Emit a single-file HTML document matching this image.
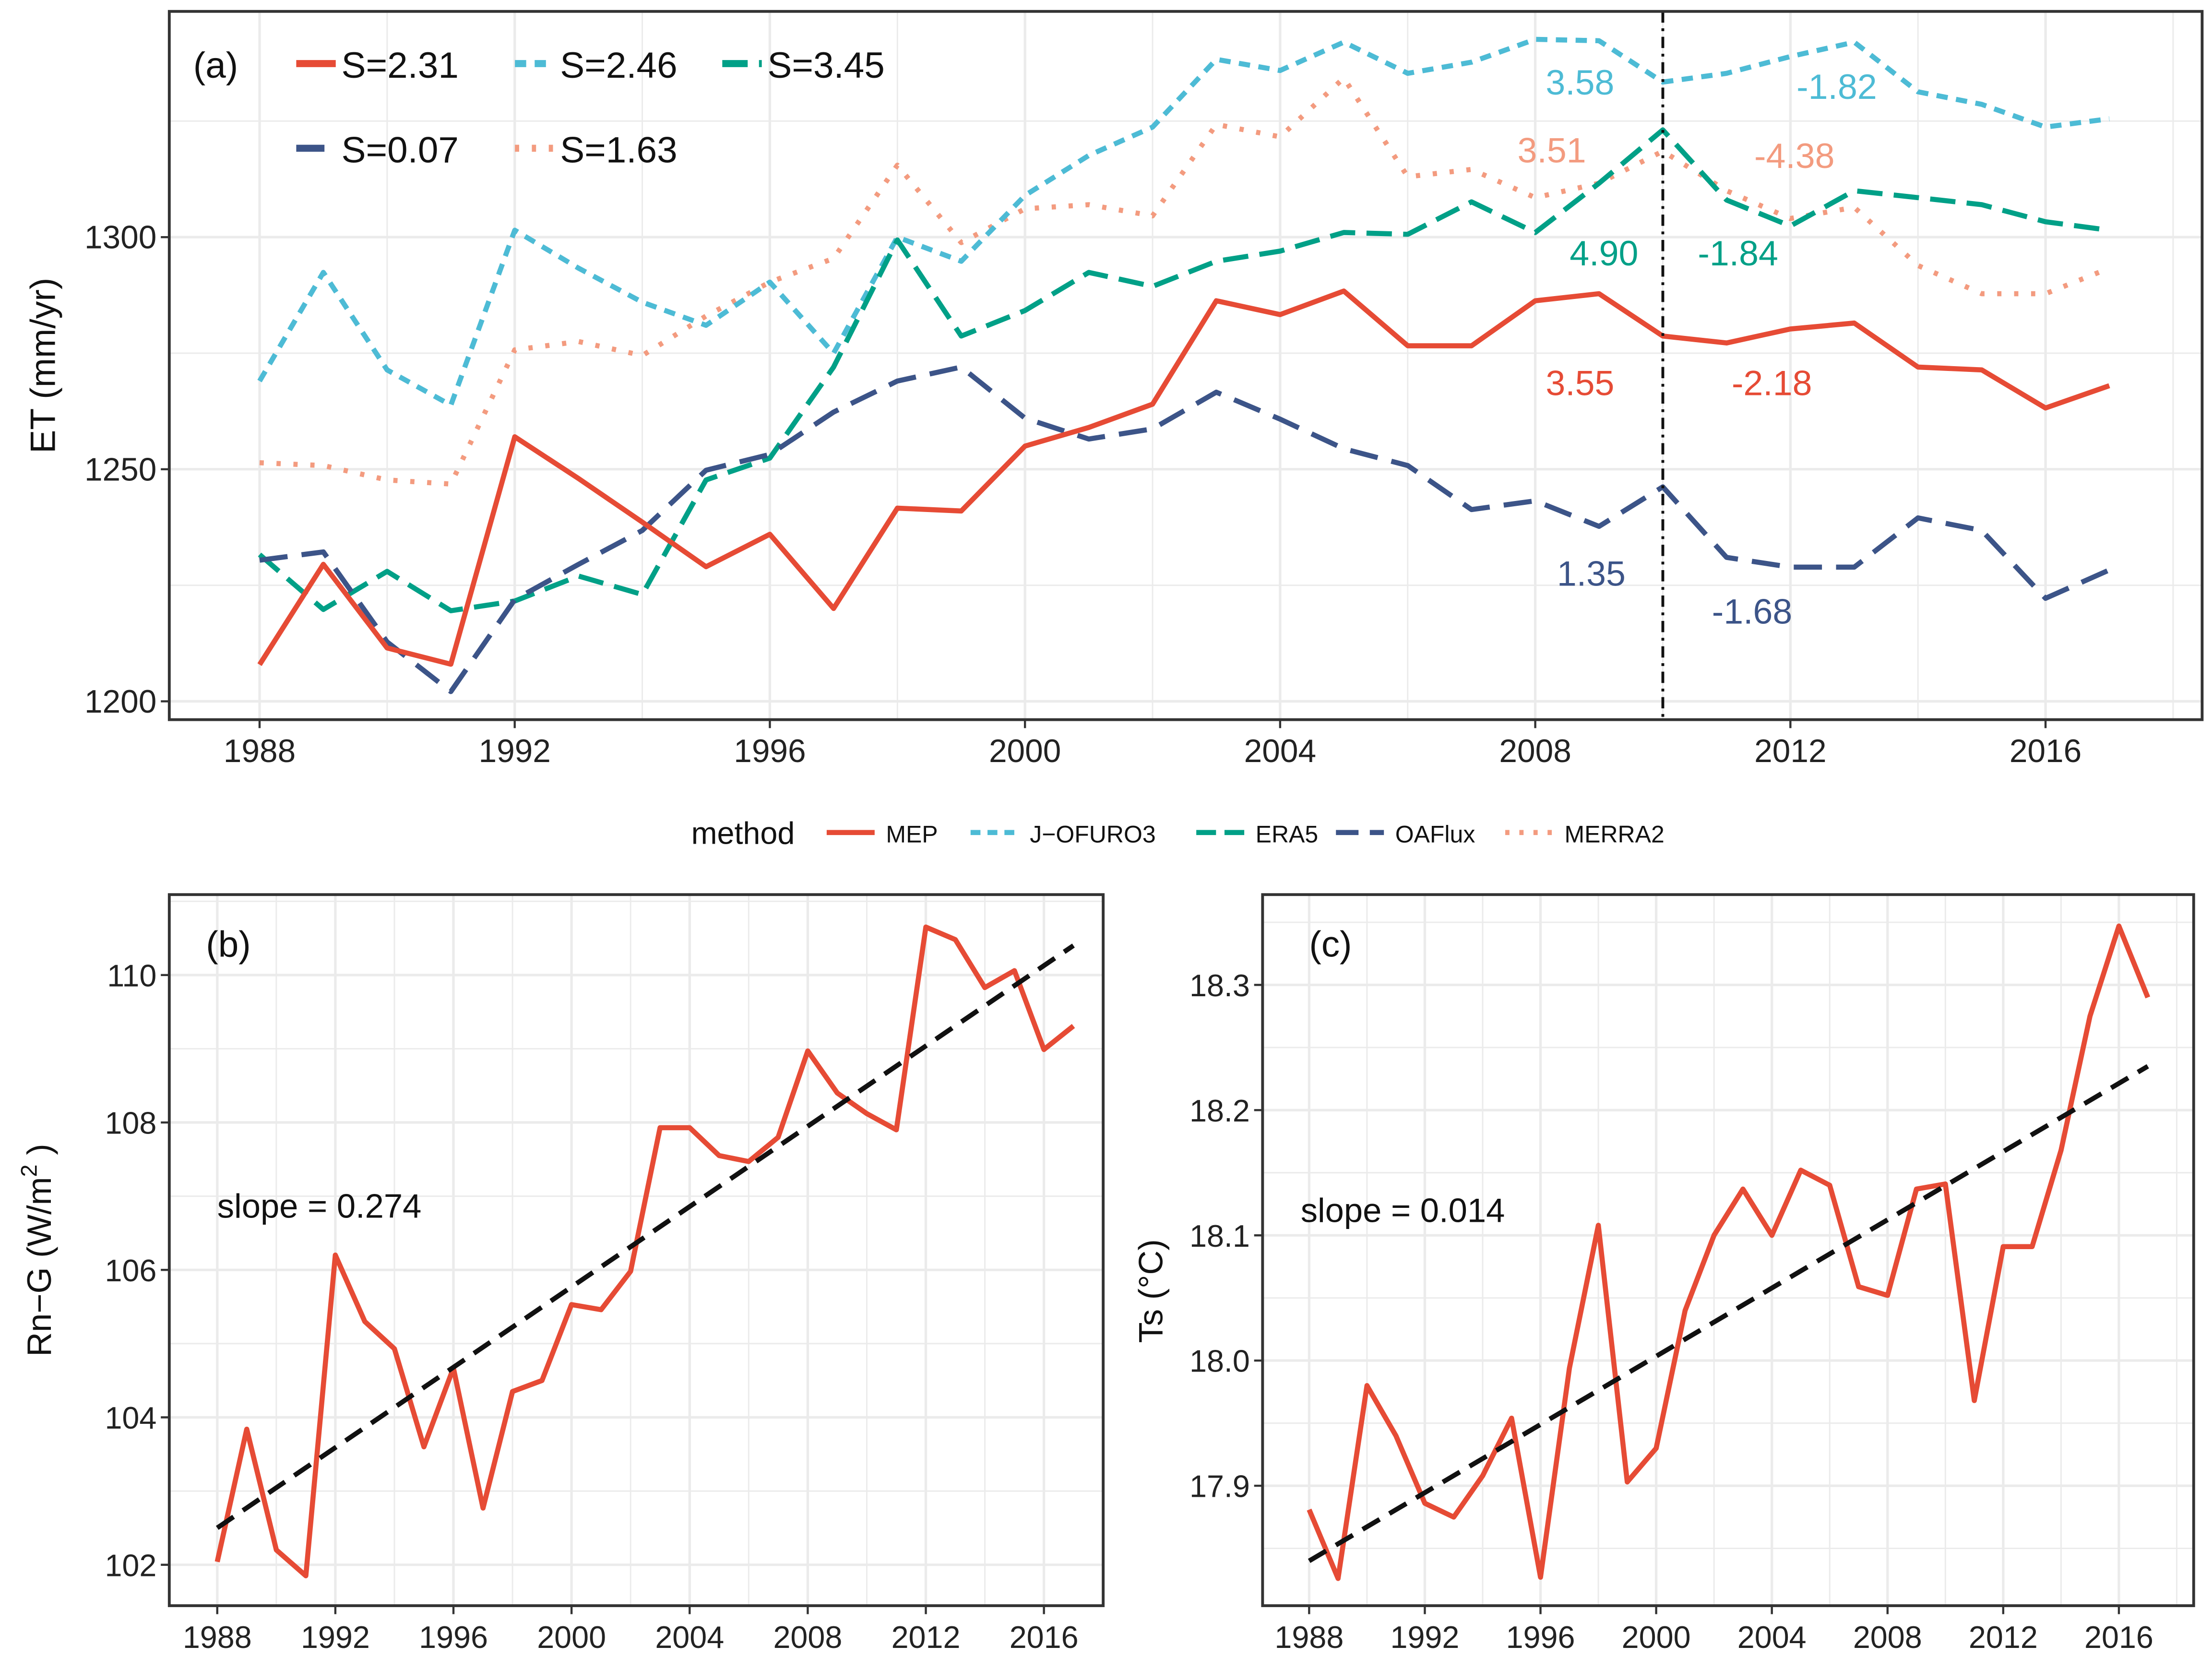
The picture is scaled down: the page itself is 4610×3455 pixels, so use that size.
<!DOCTYPE html>
<html><head><meta charset="utf-8">
<style>
html,body{margin:0;padding:0;background:#fff;}
svg{display:block;font-family:"Liberation Sans",Arial,sans-serif;}
</style></head>
<body>
<svg id="fig" xmlns="http://www.w3.org/2000/svg" width="4610" height="3455" viewBox="0 0 1568 1175"></svg>
<script>
const years = [1988,1989,1990,1991,1992,1993,1994,1995,1996,1997,1998,1999,2000,2001,2002,2003,2004,2005,2006,2007,2008,2009,2010,2011,2012,2013,2014,2015,2016,2017];
const mepET = [1207.9,1229.5,1211.5,1208,1257,1248,1238.6,1229,1236,1220,1241.6,1241,1255,1259,1264,1286.3,1283.3,1288.4,1276.6,1276.6,1286.3,1287.8,1278.7,1277.2,1280.2,1281.5,1272,1271.4,1263.2,1268];
const jofuroET = [1269,1292.4,1271.4,1263.8,1301.5,1293.3,1286,1281,1290.3,1275,1300,1294.8,1309,1317.6,1323.7,1338.3,1335.9,1342,1335.3,1337.7,1342.6,1342.3,1333.4,1335.3,1338.9,1342,1331.3,1328.6,1323.7,1325.5];
const era5ET = [1231.6,1219.8,1228,1219.5,1221.6,1227,1223,1247.7,1252.4,1272,1299.4,1278.7,1284.2,1292.4,1289.4,1294.8,1297,1301,1300.6,1307.6,1301,1311.6,1323.1,1308,1302.4,1310,1308.5,1307,1303.3,1301.5];
const oafluxET = [1230.4,1232.2,1212.8,1202.1,1221.9,1229.5,1236.8,1249.8,1253.2,1262.3,1269,1272,1261,1256.5,1258.7,1266.6,1260.8,1254.4,1250.8,1241.3,1243.2,1237.7,1246.2,1231,1228.9,1228.9,1239.5,1236.8,1222.2,1228.3];
const merraET = [1251.4,1250.8,1247.7,1246.8,1275.7,1277.5,1274.5,1283,1290.3,1295.4,1315.5,1298.8,1306.1,1307,1304.6,1324.3,1321.6,1334.3,1313,1314.6,1308.5,1311.6,1318.5,1310,1304,1306.4,1293.9,1287.8,1287.8,1293.3];
const rnG = [102.04,103.84,102.2,101.85,106.2,105.3,104.93,103.6,104.67,102.77,104.35,104.5,105.53,105.46,105.98,107.93,107.93,107.55,107.47,107.8,108.97,108.4,108.12,107.9,110.65,110.48,109.83,110.06,108.99,109.31];
const rnTrend = [102.5,110.4];
const ts = [17.881,17.826,17.98,17.94,17.886,17.875,17.908,17.954,17.827,17.994,18.108,17.903,17.93,18.04,18.10,18.137,18.10,18.152,18.14,18.059,18.052,18.137,18.141,17.968,18.091,18.091,18.168,18.275,18.347,18.29];
const tsTrend = [17.84,18.235];
const xTicks = [1988,1992,1996,2000,2004,2008,2012,2016];
const etTicks = [1200,1250,1300];
const rnTicks = [102,104,106,108,110];
const tsTicks = [17.9,18.0,18.1,18.2,18.3];
const seriesNames = ["MEP","J\u2212OFURO3","ERA5","OAFlux","MERRA2"];
const sValues = ["S=2.31","S=2.46","S=3.45","S=0.07","S=1.63"];

const NS="http://www.w3.org/2000/svg";
const svg=document.getElementById('fig');
function el(tag,attrs,parent,text){const e=document.createElementNS(NS,tag);for(const k in attrs)e.setAttribute(k,attrs[k]);if(text!==undefined)e.textContent=text;(parent||svg).appendChild(e);return e;}
const C={mep:"#e64b35",jof:"#4dbbd5",era:"#00a087",oaf:"#3c5488",mer:"#f39b7f"};
const grid="#ebebeb";

function lin(d0,d1,r0,r1){return v=>r0+(v-d0)*(r1-r0)/(d1-d0);}

function panel(o){
  const g=el('g',{});
  
  
  const X=o.X,Y=o.Y;
  for(let yr=1986;yr<=2018;yr+=2){const x=X(yr);if(x>o.x0&&x<o.x1){const l=el('line',{x1:x,x2:x,y1:o.y0,y2:o.y1,stroke:grid,'stroke-width':yr%4===0?1.8:1},g);}}
  for(let i=0;i<o.yMinor.length;i++){const y=Y(o.yMinor[i]);if(y>o.y0&&y<o.y1){const l=el('line',{x1:o.x0,x2:o.x1,y1:y,y2:y,stroke:grid,'stroke-width':1},g);}}
  for(const t of o.yTicks){const y=Y(t);const l=el('line',{x1:o.x0,x2:o.x1,y1:y,y2:y,stroke:grid,'stroke-width':1.8},g);
    const tk=el('line',{x1:o.x0-6,x2:o.x0,y1:y,y2:y,stroke:'#333','stroke-width':1.5},g);
    const tx=el('text',{x:o.x0-9,y:y+8,'text-anchor':'end','font-size':o.fs,fill:'#222'},g,o.fmt(t));}
  for(const t of xTicks){const x=X(t);const tk=el('line',{x1:x,x2:x,y1:o.y1,y2:o.y1+6,stroke:'#333','stroke-width':1.5},g);
    const tx=el('text',{x:x,y:o.y1+30,'text-anchor':'middle','font-size':o.fs,fill:'#222'},g,String(t));}
  return g;
}
function line(g,vals,X,Y,color,dash,name,w){
  const pts=years.map((yr,i)=>X(yr).toFixed(1)+','+Y(vals[i]).toFixed(1)).join(' ');
  const p=el('polyline',{points:pts,fill:'none',stroke:color,'stroke-width':w||3.6,'stroke-dasharray':dash||'none','stroke-linejoin':'round'},g);
  
  
  return p;
}
function frame(g,o){const r=el('rect',{x:o.x0,y:o.y0,width:o.x1-o.x0,height:o.y1-o.y0,fill:'none',stroke:'#333','stroke-width':2},g);}
function txt(g,x,y,s,fs,fill,name,anchor){const t=el('text',{x:x,y:y,'font-size':fs,fill:fill,'text-anchor':anchor||'start'},g,s);return t;}

// ===== Panel A =====
const A={name:'panel-a-et',x0:120,x1:1561,y0:8,y1:510,fs:23,X:lin(1988,2016,184,1450),Y:lin(1200,1300,497,168),yTicks:etTicks,yMinor:[1225,1275,1325],fmt:v=>String(v)};
const ga=panel(A);
line(ga,merraET,A.X,A.Y,C.mer,'3,9','merra2-line');
line(ga,jofuroET,A.X,A.Y,C.jof,'8,6','jofuro3-line');
line(ga,era5ET,A.X,A.Y,C.era,'18,8','era5-line');
line(ga,oafluxET,A.X,A.Y,C.oaf,'20,10','oaflux-line');
line(ga,mepET,A.X,A.Y,C.mep,'none','mep-line');
const vl=el('line',{x1:A.X(2010),x2:A.X(2010),y1:A.y0,y2:A.y1,stroke:'#111','stroke-width':2,'stroke-dasharray':'8,4,2,4'},ga);

frame(ga,A);
txt(ga,137,55,'(a)',26,'#111','panel-label-a');
const leg=[[210,45,C.mep,'none',sValues[0]],[365,45,C.jof,'8,6',sValues[1]],[512,45,C.era,'18,8',sValues[2]],[210,105,C.oaf,'20,10',sValues[3]],[365,105,C.mer,'3,9',sValues[4]]];
for(const [x,y,c,d,s] of leg){const l=el('line',{x1:x,x2:x+28,y1:y,y2:y,stroke:c,'stroke-width':5,'stroke-dasharray':d},ga);
  txt(ga,x+32,y+10,s,26,'#111','s-legend-label');}
const ann=[[1120,67,'3.58',C.jof],[1302,70,'-1.82',C.jof],[1100,115,'3.51',C.mer],[1272,119,'-4.38',C.mer],[1137,188,'4.90',C.era],[1232,188,'-1.84',C.era],[1120,280,'3.55',C.mep],[1256,280,'-2.18',C.mep],[1128,415,'1.35',C.oaf],[1242,442,'-1.68',C.oaf]];
for(const [x,y,s,c] of ann) txt(ga,x,y,s,25,c,'trend-annotation','middle');
const ya=txt(ga,0,0,'ET (mm/yr)',25,'#111','y-axis-title-a','middle');ya.setAttribute('transform','translate(39,259) rotate(-90)');

// ===== Legend =====
const lg=el('g',{});
txt(lg,490,598,'method',22,'#111','legend-title');
const lk=[[586,C.mep,'none'],[688,C.jof,'7,5'],[848,C.era,'14,6'],[947,C.oaf,'16,8'],[1067,C.mer,'3,7']];
lk.forEach(([x,c,d],i)=>{const l=el('line',{x1:x,x2:x+34,y1:590,y2:590,stroke:c,'stroke-width':3.6,'stroke-dasharray':d},lg);
  txt(lg,x+42,597,seriesNames[i],17,'#111','legend-entry');});

// ===== Panel B =====
const B={name:'panel-b-rng',x0:120,x1:782,y0:634,y1:1138,fs:22,X:lin(1988,2016,154,740),Y:lin(102,110,1109,691),yTicks:rnTicks,yMinor:[101,103,105,107,109,111],fmt:v=>String(v)};
const gb=panel(B);
line(gb,rnG,B.X,B.Y,C.mep,'none','rng-line');
const tb=el('line',{x1:B.X(1988),y1:B.Y(rnTrend[0]),x2:B.X(2017),y2:B.Y(rnTrend[1]),stroke:'#111','stroke-width':3.4,'stroke-dasharray':'14,8'},gb);

frame(gb,B);
txt(gb,146,678,'(b)',26,'#111','panel-label-b');
txt(gb,154,863,'slope = 0.274',24,'#111','slope-label-b');
const yb=el('text',{'font-size':24,fill:'#111','text-anchor':'middle',transform:'translate(36,886) rotate(-90)'},gb);

yb.appendChild(document.createTextNode('Rn\u2212G (W/m'));
el('tspan',{dy:-10,'font-size':16},yb,'2');
el('tspan',{dy:10},yb,' )');

// ===== Panel C =====
const Cp={name:'panel-c-ts',x0:895,x1:1555,y0:634,y1:1138,fs:22,X:lin(1988,2016,928,1502),Y:lin(17.9,18.3,1053,698),yTicks:tsTicks,yMinor:[17.85,17.95,18.05,18.15,18.25,18.35],fmt:v=>v.toFixed(1)};
const gc=panel(Cp);
line(gc,ts,Cp.X,Cp.Y,C.mep,'none','ts-line');
const tc=el('line',{x1:Cp.X(1988),y1:Cp.Y(tsTrend[0]),x2:Cp.X(2017),y2:Cp.Y(tsTrend[1]),stroke:'#111','stroke-width':3.4,'stroke-dasharray':'14,8'},gc);

frame(gc,Cp);
txt(gc,928,678,'(c)',26,'#111','panel-label-c');
txt(gc,922,866,'slope = 0.014',24,'#111','slope-label-c');
const yc=txt(gc,0,0,'Ts (\u00B0C)',24,'#111','y-axis-title-c','middle');yc.setAttribute('transform','translate(824,915) rotate(-90)');
</script>
</body></html>
